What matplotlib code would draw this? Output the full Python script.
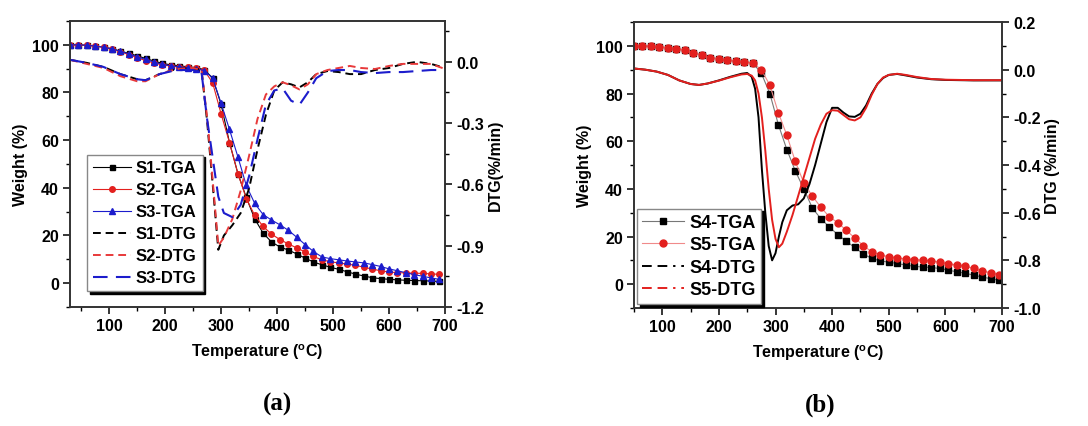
import matplotlib
matplotlib.use('Agg')
import matplotlib.pyplot as plt
from matplotlib.ticker import MultipleLocator, FixedLocator
from matplotlib.lines import Line2D

plt.rcParams['font.family'] = ['Liberation Sans', 'DejaVu Sans']
plt.rcParams['font.weight'] = 'bold'
plt.rcParams['axes.labelweight'] = 'bold'
plt.rcParams['mathtext.fontset'] = 'custom'
plt.rcParams['mathtext.rm'] = 'Liberation Sans:bold'
plt.rcParams['mathtext.it'] = 'Liberation Sans:bold'
plt.rcParams['mathtext.bf'] = 'Liberation Sans:bold'

# ---------------- Panel (a) data ----------------
temp_a_tga = [30, 45, 60, 75, 90, 105, 120, 135, 150, 165, 180, 195, 210, 225, 240,
              255, 270, 285, 300, 315, 330, 345, 360, 375, 390, 405, 420, 435, 450, 465,
              480, 495, 510, 525, 540, 555, 570, 585, 600, 615, 630, 645, 660, 675, 690]
s1_tga = [100, 100, 99.8, 99.5, 99.0, 98.3, 97.4, 96.4, 95.4, 94.3, 93.2, 92.2, 91.6, 91.2, 90.8,
          90.4, 89.6, 86.0, 75.0, 59.0, 46.0, 36.0, 27.0, 21.0, 17.3, 15.2, 13.9, 12.3, 10.5, 8.9,
          7.7, 6.7, 5.8, 4.8, 3.8, 3.0, 2.3, 1.9, 1.6, 1.4, 1.2, 1.1, 1.0, 0.9, 0.7]
s2_tga = [100, 100, 99.8, 99.6, 99.0, 98.3, 97.1, 95.9, 94.6, 93.4, 92.4, 91.6, 91.1, 90.8, 90.5,
          90.2, 89.3, 84.0, 71.0, 59.0, 46.0, 35.5, 28.5, 23.8, 20.6, 18.3, 16.5, 14.8, 13.1, 11.2,
          9.8, 9.0, 8.5, 8.0, 7.5, 6.7, 5.9, 5.2, 4.7, 4.4, 4.3, 4.2, 4.1, 3.9, 3.7]
s3_tga = [100, 100, 99.8, 99.5, 99.0, 98.3, 97.3, 96.2, 95.0, 93.9, 92.8, 91.8, 91.2, 90.8, 90.4,
          90.0, 89.2, 86.0, 75.5, 64.5, 53.0, 41.0, 33.5, 28.8, 26.5, 24.5, 22.2, 19.3, 16.2, 13.3,
          11.0, 10.3, 9.8, 9.3, 8.9, 8.5, 7.8, 7.0, 6.0, 5.2, 4.4, 3.6, 2.9, 2.2, 1.6]

temp_a_dtg = [30, 60, 90, 120, 150, 165, 190, 220, 250, 265, 275, 285, 295, 305, 320, 335, 350,
              365, 380, 395, 410, 425, 440, 455, 470, 490, 510, 530, 550, 575, 600, 625, 650, 675, 700]
s1_dtg = [0.01, -0.005, -0.025, -0.06, -0.085, -0.09, -0.06, -0.035, -0.03, -0.04, -0.29, -0.6,
          -0.92, -0.85, -0.8, -0.74, -0.62, -0.43, -0.26, -0.14, -0.1, -0.11, -0.125, -0.1, -0.06,
          -0.045, -0.05, -0.06, -0.06, -0.04, -0.03, -0.01, 0.0, -0.01, -0.03]
s2_dtg = [0.01, -0.01, -0.03, -0.07, -0.095, -0.095, -0.06, -0.035, -0.03, -0.04, -0.27, -0.58,
          -0.9, -0.86, -0.77, -0.63, -0.46, -0.28, -0.16, -0.12, -0.1, -0.115, -0.135, -0.11, -0.06,
          -0.04, -0.03, -0.02, -0.03, -0.035, -0.02, -0.01, -0.01, -0.01, -0.035]
s3_dtg = [0.01, -0.005, -0.025, -0.06, -0.085, -0.09, -0.06, -0.04, -0.04, -0.05, -0.28, -0.47,
          -0.66, -0.74, -0.76, -0.7, -0.56, -0.38, -0.21, -0.14, -0.13, -0.19, -0.21, -0.15, -0.08,
          -0.045, -0.04, -0.04, -0.05, -0.055, -0.05, -0.05, -0.045, -0.04, -0.04]

# ---------------- Panel (b) data ----------------
temp_b_tga = [50, 65, 80, 95, 110, 125, 140, 155, 170, 185, 200, 215, 230, 245, 260,
              275, 290, 305, 320, 335, 350, 365, 380, 395, 410, 425, 440, 455, 470, 485,
              500, 515, 530, 545, 560, 575, 590, 605, 620, 635, 650, 665, 680, 695]
s4_tga = [100, 100, 99.8, 99.5, 99.2, 98.8, 98.2, 97.2, 96.1, 95.1, 94.5, 94.0, 93.6, 93.3, 92.8,
          88.5, 80.0, 67.0, 56.5, 47.5, 40.0, 32.0, 27.5, 24.0, 20.8, 18.0, 15.4, 12.7, 10.8, 9.8,
          9.2, 8.7, 8.0, 7.5, 7.2, 7.0, 6.6, 5.9, 5.2, 4.6, 3.8, 3.0, 2.3, 1.6]
s5_tga = [100, 100, 99.8, 99.5, 99.2, 98.8, 98.2, 97.2, 96.1, 95.1, 94.5, 94.0, 93.6, 93.3, 92.8,
          90.0, 83.5, 72.0, 62.5, 51.5, 42.5, 37.0, 32.3, 28.3, 25.8, 22.6, 19.4, 16.2, 13.6, 12.2,
          11.6, 11.0, 10.6, 10.3, 10.1, 9.8, 9.2, 8.6, 8.1, 7.6, 6.6, 5.6, 4.8, 4.0]

temp_b_dtg = [50, 70, 90, 110, 130, 150, 165, 180, 200, 220, 240, 250, 258, 264, 270, 276, 282,
              288, 294, 300, 306, 312, 320, 330, 340, 350, 360, 370, 380, 390, 400, 410, 420, 430,
              440, 450, 460, 470, 480, 490, 500, 515, 530, 550, 575, 600, 650, 700]
s4_dtg = [0.005, 0.0, -0.008, -0.022, -0.045, -0.06, -0.064, -0.058, -0.045, -0.03, -0.017, -0.014,
          -0.03, -0.08, -0.2, -0.42, -0.6, -0.74, -0.8, -0.77, -0.7, -0.64, -0.59, -0.57, -0.565,
          -0.54, -0.48, -0.4, -0.31, -0.22, -0.16, -0.16, -0.18, -0.196, -0.198, -0.185, -0.15,
          -0.1, -0.06, -0.035, -0.022, -0.018, -0.024, -0.033, -0.04, -0.043, -0.045, -0.045]
s5_dtg = [0.005, 0.0, -0.008, -0.022, -0.045, -0.06, -0.064, -0.058, -0.046, -0.032, -0.02, -0.018,
          -0.025, -0.045, -0.1, -0.2, -0.34, -0.5, -0.63, -0.71, -0.745, -0.73, -0.68, -0.61, -0.53,
          -0.45, -0.37, -0.29, -0.23, -0.185, -0.17, -0.172, -0.19, -0.208, -0.213, -0.2, -0.16,
          -0.105, -0.06, -0.033, -0.022, -0.017, -0.022, -0.031, -0.039, -0.042, -0.044, -0.044]

xticks = [100, 200, 300, 400, 500, 600, 700]
wticks = [0, 20, 40, 60, 80, 100]

RED = '#e3201e'
BLUE = '#1c1ccc'
FS = 11.5
LFS = 12

fig = plt.figure(figsize=(10.88, 4.27), dpi=100)
fig.patch.set_facecolor('white')


def style_axes(ax, ax2):
    for a in (ax, ax2):
        for sp in a.spines.values():
            sp.set_linewidth(1.2)
            sp.set_color('#333333')
    ax.tick_params(axis='both', which='major', direction='out', length=5, width=1.1,
                   labelsize=FS, top=False, pad=3)
    ax.tick_params(axis='both', which='minor', direction='out', length=3, width=1.0, top=False)
    ax2.tick_params(axis='y', which='major', direction='out', length=5, width=1.1, labelsize=FS,
                    pad=3)
    ax2.tick_params(axis='y', which='minor', direction='out', length=3, width=1.0)
    for lab in ax.get_xticklabels() + ax.get_yticklabels() + ax2.get_yticklabels():
        lab.set_fontweight('bold')


# ---------------- Panel (a) ----------------
axa = fig.add_axes([0.0643, 0.2787, 0.3447, 0.6698])
axa2 = axa.twinx()
axa.plot(temp_a_tga, s1_tga, color='black', lw=0.8, marker='s', ms=3.6, label='S1-TGA')
axa.plot(temp_a_tga, s2_tga, color=RED, lw=0.8, marker='o', ms=4.0, label='S2-TGA')
axa.plot(temp_a_tga, s3_tga, color=BLUE, lw=0.8, marker='^', ms=4.2, label='S3-TGA')
axa2.plot(temp_a_dtg, s1_dtg, color='black', lw=1.4, ls=(0, (4, 2.5)), label='S1-DTG')
axa2.plot(temp_a_dtg, s2_dtg, color='#e8393a', lw=1.4, ls=(0, (4, 2.5)), label='S2-DTG')
axa2.plot(temp_a_dtg, s3_dtg, color=BLUE, lw=1.5, ls=(0, (7, 4)), label='S3-DTG')
axa.set_xlim(30, 700)
axa.set_ylim(-10, 110)
axa2.set_ylim(-1.2, 0.2)
axa.xaxis.set_major_locator(FixedLocator(xticks))
axa.xaxis.set_minor_locator(MultipleLocator(50))
axa.yaxis.set_major_locator(FixedLocator(wticks))
axa.yaxis.set_minor_locator(MultipleLocator(10))
axa2.yaxis.set_major_locator(FixedLocator([-1.2, -0.9, -0.6, -0.3, 0.0]))
axa2.yaxis.set_minor_locator(FixedLocator([-1.05, -0.75, -0.45, -0.15, 0.15]))
axa2.set_yticklabels(['-1.2', '-0.9', '-0.6', '-0.3', '0.0'])
axa.set_xlabel('Temperature ($^{o}$C)', fontsize=FS, fontweight='bold', labelpad=6)
axa.set_ylabel('Weight (%)', fontsize=FS, fontweight='bold', labelpad=3)
axa2.set_ylabel('DTG(%/min)', fontsize=FS, fontweight='bold', labelpad=3)
style_axes(axa, axa2)
ha, la = axa.get_legend_handles_labels()
hb, lb = axa2.get_legend_handles_labels()
lega = axa2.legend(ha + hb, la + lb, loc='lower left', bbox_to_anchor=(0.045, 0.055),
                   fontsize=LFS, frameon=True, fancybox=False, edgecolor='#888888',
                   handlelength=2.3, handletextpad=0.3, labelspacing=0.42,
                   borderpad=0.35, borderaxespad=0.0,
                   shadow={'facecolor': 'black', 'edgecolor': 'black', 'alpha': 1.0})
for t in lega.get_texts():
    t.set_fontweight('bold')

# ---------------- Panel (b) ----------------
axb = fig.add_axes([0.5827, 0.2763, 0.3382, 0.6698])
axb2 = axb.twinx()
axb.plot(temp_b_tga, s4_tga, color='#777777', lw=0.8, marker='s', ms=4.6,
         mfc='black', mec='black', label='S4-TGA')
axb.plot(temp_b_tga, s5_tga, color='#f08a8a', lw=0.8, marker='o', ms=5.0,
         mfc=RED, mec=RED, label='S5-TGA')
axb2.plot(temp_b_dtg, s4_dtg, color='black', lw=1.4, label='S4-DTG')
axb2.plot(temp_b_dtg, s5_dtg, color=RED, lw=1.4, label='S5-DTG')
axb.set_xlim(50, 700)
axb.set_ylim(-10, 110)
axb2.set_ylim(-1.0, 0.2)
axb.xaxis.set_major_locator(FixedLocator(xticks))
axb.xaxis.set_minor_locator(MultipleLocator(50))
axb.yaxis.set_major_locator(FixedLocator(wticks))
axb.yaxis.set_minor_locator(MultipleLocator(10))
axb2.yaxis.set_major_locator(FixedLocator([-1.0, -0.8, -0.6, -0.4, -0.2, 0.0, 0.2]))
axb2.yaxis.set_minor_locator(MultipleLocator(0.1))
axb2.set_yticklabels(['-1.0', '-0.8', '-0.6', '-0.4', '-0.2', '0.0', '0.2'])
axb.set_xlabel('Temperature ($^{o}$C)', fontsize=FS, fontweight='bold', labelpad=6)
axb.set_ylabel('Weight (%)', fontsize=FS, fontweight='bold', labelpad=3)
axb2.set_ylabel('DTG (%/min)', fontsize=FS, fontweight='bold', labelpad=3)
style_axes(axb, axb2)
hb_tga, lb_tga = axb.get_legend_handles_labels()
leg_b_dtg = [Line2D([], [], color='black', lw=1.4, ls=(0, (5, 3, 5, 3, 1.2, 3))),
             Line2D([], [], color=RED, lw=1.4, ls=(0, (5, 3, 5, 3, 1.2, 3)))]
legb = axb2.legend(hb_tga + leg_b_dtg, lb_tga + ['S4-DTG', 'S5-DTG'], loc='lower left',
                   bbox_to_anchor=(0.008, 0.015), fontsize=LFS + 1, frameon=True, fancybox=False,
                   edgecolor='#888888', handlelength=2.3, handletextpad=0.3,
                   labelspacing=0.3, borderpad=0.3, borderaxespad=0.0,
                   shadow={'facecolor': 'black', 'edgecolor': 'black', 'alpha': 1.0})
for t in legb.get_texts():
    t.set_fontweight('bold')

# captions
fig.text(0.2546, 0.052, '(a)', ha='center', va='center', fontsize=18, fontweight='bold',
         family=['Liberation Serif', 'DejaVu Serif'])
fig.text(0.7537, 0.052, '(b)', ha='center', va='center', fontsize=18, fontweight='bold',
         family=['Liberation Serif', 'DejaVu Serif'])

fig.savefig('out.png', dpi=100, facecolor='white')
